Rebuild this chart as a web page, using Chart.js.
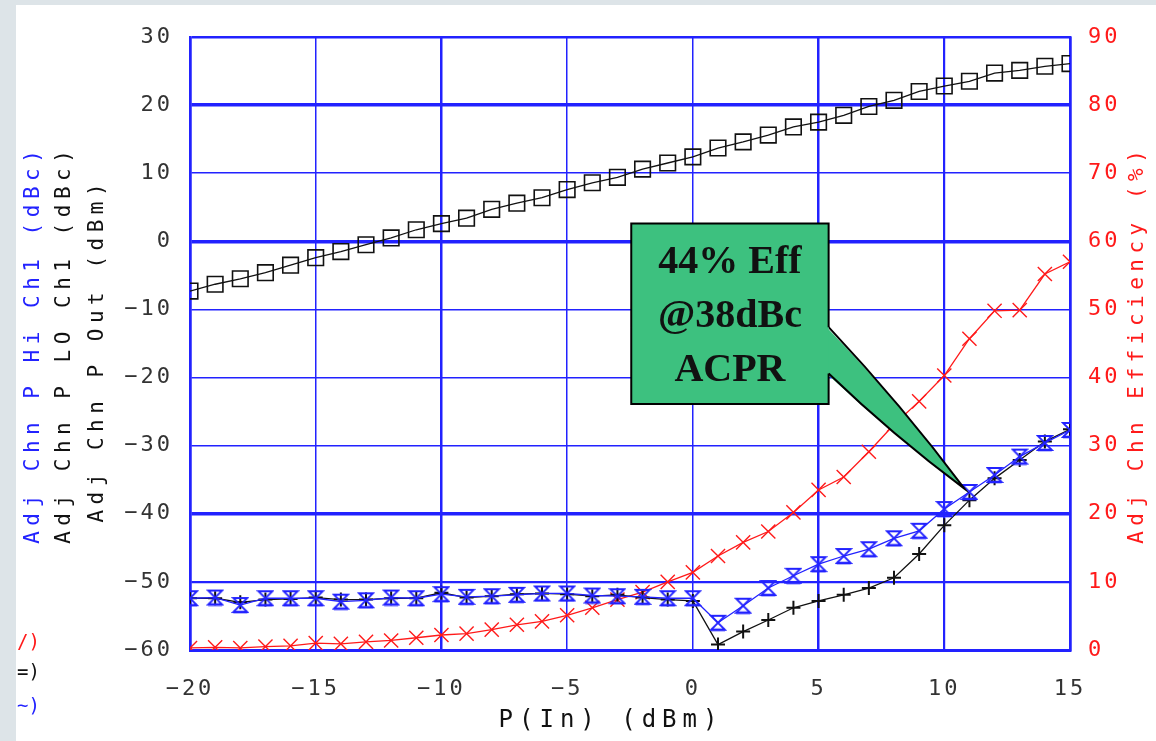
<!DOCTYPE html>
<html><head><meta charset="utf-8">
<script src="https://cdn.jsdelivr.net/npm/chart.js@4.4.1/dist/chart.umd.min.js"></script>
<style>html,body{margin:0;padding:0;background:#fff;overflow:hidden}canvas{display:block}</style>
</head><body>
<canvas id="c" width="1156" height="741"></canvas>
<script>
// ---------- data ----------
const pInDbm = [-20,-19,-18,-17,-16,-15,-14,-13,-12,-11,-10,-9,-8,-7,-6,-5,-4,-3,-2,-1,0,1,2,3,4,5,6,7,8,9,10,11,12,13,14,15];
const pOutDbm = [-7.3,-6.3,-5.5,-4.6,-3.5,-2.4,-1.5,-0.5,0.5,1.7,2.6,3.4,4.7,5.6,6.4,7.6,8.6,9.4,10.6,11.5,12.4,13.7,14.6,15.6,16.8,17.5,18.5,19.8,20.7,22.0,22.8,23.5,24.7,25.1,25.7,26.1];
const hiCh1Dbc = [-52.4,-52.3,-53.4,-52.4,-52.4,-52.4,-52.9,-52.7,-52.3,-52.4,-51.8,-52.2,-52.1,-51.9,-51.7,-51.7,-52.0,-52.1,-52.2,-52.4,-52.4,-56.0,-53.5,-50.9,-49.1,-47.4,-46.2,-45.2,-43.6,-42.5,-39.3,-36.8,-34.3,-31.6,-29.6,-27.7];
const loCh1Dbc = [-52.4,-52.4,-53.0,-52.6,-52.5,-52.3,-52.6,-52.6,-52.4,-52.4,-51.6,-52.3,-52.1,-51.8,-51.7,-51.8,-52.1,-51.9,-52.3,-52.6,-52.8,-59.2,-57.3,-55.6,-53.8,-52.8,-51.9,-50.9,-49.4,-45.9,-41.7,-38.0,-34.8,-32.1,-29.4,-27.6];
const efficiencyPct = [0.3,0.4,0.3,0.5,0.6,1.0,0.9,1.2,1.4,1.8,2.2,2.4,3.0,3.7,4.2,5.1,6.2,7.4,8.5,10.0,11.4,13.8,15.8,17.4,20.2,23.5,25.4,29.1,33.1,36.5,40.3,45.7,49.8,49.9,55.2,57.0];
const calloutLines = ["44% Eff", "@38dBc", "ACPR"];
const calloutBoxX = [-2.45, 5.4];
const calloutBoxY = [-23.9, 2.6];
const calloutBaseY = [-12.6, -19.4];
const calloutTip = [10.8, -36.3];

const BLUE = '#2222ff';
const RED = '#ff1a1a';
const BLACK = '#111111';

function hourglass(color){
  const c = document.createElement('canvas');
  c.width = 18; c.height = 18;
  const g = c.getContext('2d');
  g.strokeStyle = color; g.lineWidth = 1.8;
  g.beginPath();
  g.moveTo(2,2); g.lineTo(16,2); g.lineTo(2,16); g.lineTo(16,16); g.closePath();
  g.stroke();
  g.lineWidth = 2.6;
  g.beginPath(); g.moveTo(2,16); g.lineTo(16,16); g.stroke();
  return c;
}

const toXY = arr => arr.map((v,i)=>({x:pInDbm[i], y:v}));

const fixedPlugin = {
  id:'fixed',
  beforeDraw(chart){
    const ctx = chart.ctx;
    ctx.save();
    ctx.fillStyle = '#ffffff';
    ctx.fillRect(0,0,chart.width,chart.height);
    ctx.fillStyle = '#dde4e8';
    ctx.fillRect(0,0,16,chart.height);
    ctx.fillRect(0,0,chart.width,5);
    ctx.restore();
    ctx.letterSpacing = '3px';
  },
  afterDatasetsDraw(chart){
    const ctx = chart.ctx, xs = chart.scales.x, ys = chart.scales.y;
    const L = xs.getPixelForValue(calloutBoxX[0]), R = xs.getPixelForValue(calloutBoxX[1]);
    const T = ys.getPixelForValue(calloutBoxY[1]), B = ys.getPixelForValue(calloutBoxY[0]);
    const b1 = ys.getPixelForValue(calloutBaseY[0]), b2 = ys.getPixelForValue(calloutBaseY[1]);
    const tx = xs.getPixelForValue(calloutTip[0]), ty = ys.getPixelForValue(calloutTip[1]);
    ctx.save();
    ctx.fillStyle = '#3dc17f';
    ctx.strokeStyle = '#000';
    ctx.lineWidth = 2;
    ctx.beginPath();
    ctx.moveTo(R-2,b1);
    ctx.quadraticCurveTo((R+tx)/2+6,(b1+ty)/2-2,tx,ty);
    ctx.quadraticCurveTo((R+tx)/2-4,(b2+ty)/2+4,R-2,b2);
    ctx.closePath();
    ctx.fill();
    ctx.beginPath();
    ctx.moveTo(R,b1); ctx.quadraticCurveTo((R+tx)/2+6,(b1+ty)/2-2,tx,ty);
    ctx.quadraticCurveTo((R+tx)/2-4,(b2+ty)/2+4,R,b2);
    ctx.stroke();
    ctx.fillRect(L,T,R-L,B-T);
    ctx.beginPath();
    ctx.moveTo(R,b1); ctx.lineTo(R,T); ctx.lineTo(L,T); ctx.lineTo(L,B); ctx.lineTo(R,B); ctx.lineTo(R,b2);
    ctx.stroke();
    ctx.letterSpacing = '0px';
    ctx.fillStyle = '#111';
    ctx.font = "bold 40px 'Liberation Serif'";
    ctx.textAlign = 'center';
    ctx.textBaseline = 'middle';
    const cx = (L+R)/2, cy = (T+B)/2 + 3;
    calloutLines.forEach((s,i)=>ctx.fillText(s, cx, cy + (i-1)*54));
    ctx.restore();
    ctx.letterSpacing = '3px';
  },
  afterDraw(chart){
    const ctx = chart.ctx;
    ctx.save();
    ctx.textAlign = 'center';
    ctx.textBaseline = 'middle';
    const vtext = (s, x, y, color, size, sp) => {
      ctx.save();
      ctx.translate(x,y);
      ctx.rotate(-Math.PI/2);
      ctx.letterSpacing = sp + 'px';
      ctx.font = size + "px 'DejaVu Sans Mono'";
      ctx.fillStyle = color;
      ctx.fillText(s, sp/2, 0);
      ctx.restore();
    };
    vtext('Adj Chn P Hi Ch1 (dBc)', 34, 347, BLUE, 21, 5.5);
    vtext('Adj Chn P LO Ch1 (dBc)', 65, 347, BLACK, 21, 5.5);
    vtext('Adj Chn P Out (dBm)', 98, 353, BLACK, 21, 5.5);
    vtext('Adj Chn Efficiency (%)', 1138, 347, RED, 21, 5.5);
    ctx.letterSpacing = '6px';
    ctx.font = "24px 'DejaVu Sans Mono'";
    ctx.fillStyle = BLACK;
    ctx.fillText('P(In) (dBm)', 611, 721);
    ctx.letterSpacing = '0px';
    ctx.textAlign = 'left';
    ctx.font = "19px 'DejaVu Sans Mono'";
    ctx.fillStyle = RED; ctx.fillText('/)', 17, 643);
    ctx.fillStyle = BLACK; ctx.fillText('=)', 17, 673);
    ctx.fillStyle = BLUE; ctx.fillText('~)', 17, 707);
    ctx.restore();
  }
};

const fmt = v => (v < 0 ? '\u2212' + Math.abs(v) : String(v));
const thickY = {20:3.5, 0:3.5, '-40':3.5, '-50':2.2, 30:2.5};
const thickX = {'-10':2.5, 5:2.5, 10:2.2, '-20':2.5, 15:2.5};

new Chart(document.getElementById('c'), {
  type: 'line',
  data: {
    datasets: [
      { label:'P Out', data: toXY(pOutDbm), yAxisID:'y', borderColor:BLACK, backgroundColor:'transparent',
        borderWidth:1.3, pointStyle:'rect', pointRadius:11, pointBorderWidth:1.6, pointBorderColor:BLACK, pointBackgroundColor:'transparent' },
      { label:'Hi Ch1', data: toXY(hiCh1Dbc), yAxisID:'y', borderColor:BLUE, backgroundColor:'transparent',
        borderWidth:1.3, pointStyle: hourglass(BLUE) },
      { label:'LO Ch1', data: toXY(loCh1Dbc), yAxisID:'y', borderColor:BLACK, backgroundColor:'transparent',
        borderWidth:1.3, pointStyle:'cross', pointRadius:7, pointBorderWidth:2, pointBorderColor:BLACK },
      { label:'Efficiency', data: toXY(efficiencyPct), yAxisID:'y2', borderColor:RED, backgroundColor:'transparent',
        borderWidth:1.3, pointStyle:'crossRot', pointRadius:10, pointBorderWidth:1.4, pointBorderColor:RED }
    ]
  },
  options: {
    responsive:false, animation:false,
    layout:{ padding:{ top:37, left:0, right:0, bottom:0 } },
    plugins:{ legend:{display:false}, tooltip:{enabled:false} },
    scales:{
      x:{ type:'linear', min:-20, max:15,
        afterFit: s => { s.height = 91; },
        ticks:{ stepSize:5, padding:26, color:'#333', font:{family:"'DejaVu Sans Mono'", size:22}, callback: fmt, maxRotation:0 },
        grid:{ color:BLUE, drawTicks:false, lineWidth: c => thickX[c.tick ? c.tick.value : 0] || 1.5 },
        border:{ color:BLUE, width:3 } },
      y:{ type:'linear', position:'left', min:-60, max:30,
        afterFit: s => { s.width = 190; },
        ticks:{ stepSize:10, padding:17, color:'#333', font:{family:"'DejaVu Sans Mono'", size:22}, callback: fmt },
        grid:{ color:BLUE, drawTicks:false, lineWidth: c => thickY[c.tick ? c.tick.value : 0] || 1.5 },
        border:{ color:BLUE, width:2.5 } },
      y2:{ type:'linear', position:'right', min:0, max:90,
        afterFit: s => { s.width = 86; },
        ticks:{ stepSize:10, padding:18, color:RED, font:{family:"'DejaVu Sans Mono'", size:22} },
        grid:{ display:false, drawTicks:false },
        border:{ color:BLUE, width:2.5 } }
    }
  },
  plugins:[fixedPlugin]
});
</script>
</body></html>
